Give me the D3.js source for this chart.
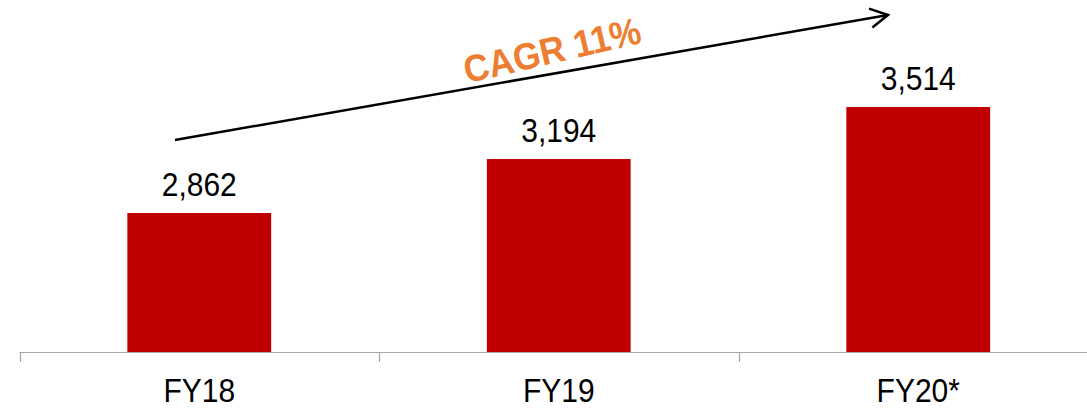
<!DOCTYPE html>
<html>
<head>
<meta charset="utf-8">
<script src="https://d3js.org/d3.v7.min.js"></script>
<style>
  html, body { margin: 0; padding: 0; background: #fff; }
  svg { display: block; }
</style>
</head>
<body>
<svg id="chart" width="1087" height="409"></svg>
<script>
const categories = ["FY18", "FY19", "FY20*"];
const values = [2862, 3194, 3514];
const cagrLabel = "CAGR 11%";

const svg = d3.select("#chart");
const baseY = 352;
const font = "Liberation Sans, Arial, sans-serif";

const x = d3.scaleBand()
  .domain(categories)
  .range([19.5, 1098])
  .paddingInner(0.6)
  .paddingOuter(0.3);

const y = d3.scaleLinear()
  .domain([2007, 4000])
  .range([baseY, 28]);

// bars
svg.selectAll("rect.bar")
  .data(categories)
  .join("rect")
  .attr("class", "bar")
  .attr("x", d => x(d))
  .attr("width", x.bandwidth())
  .attr("y", (d, i) => y(values[i]))
  .attr("height", (d, i) => baseY - y(values[i]))
  .attr("fill", "#C00000");

// value labels (slightly tall glyphs)
svg.selectAll("text.val")
  .data(categories)
  .join("text")
  .attr("class", "val")
  .attr("transform", (d, i) => `translate(${x(d) + x.bandwidth() / 2},${y(values[i]) - 17}) scale(1,1.1)`)
  .attr("text-anchor", "middle")
  .attr("font-family", font)
  .attr("font-size", 30)
  .attr("fill", "#000")
  .text((d, i) => d3.format(",")(values[i]));

// category axis with separators between bands
const bounds = d3.range(categories.length + 1).map(i => 19.5 + i * (1098 - 19.5) / categories.length);
const axisG = svg.append("g");
axisG.append("line")
  .attr("x1", 19.5).attr("x2", 1087)
  .attr("y1", baseY + 0.5).attr("y2", baseY + 0.5)
  .attr("stroke", "#A6A6A6").attr("stroke-width", 1.2);
axisG.selectAll("line.tick")
  .data(bounds)
  .join("line")
  .attr("class", "tick")
  .attr("x1", d => Math.round(d) + 0.5).attr("x2", d => Math.round(d) + 0.5)
  .attr("y1", baseY).attr("y2", baseY + 10)
  .attr("stroke", "#A6A6A6").attr("stroke-width", 1.2);
axisG.selectAll("text")
  .data(categories)
  .join("text")
  .attr("transform", d => `translate(${x(d) + x.bandwidth() / 2},402) scale(1,1.1)`)
  .attr("text-anchor", "middle")
  .attr("font-family", font)
  .attr("font-size", 30)
  .attr("fill", "#000")
  .text(d => d);

// growth arrow
const ax1 = 175, ay1 = 140, ax2 = 888, ay2 = 15;
svg.append("line")
  .attr("x1", ax1).attr("y1", ay1).attr("x2", ax2).attr("y2", ay2)
  .attr("stroke", "#000").attr("stroke-width", 2.5);
const ang = Math.atan2(ay2 - ay1, ax2 - ax1);
const hl = 20, ha = 0.5;
svg.append("path")
  .attr("d", `M${ax2 - hl * Math.cos(ang - ha)},${ay2 - hl * Math.sin(ang - ha)} L${ax2},${ay2} L${ax2 - hl * Math.cos(ang + ha)},${ay2 - hl * Math.sin(ang + ha)}`)
  .attr("fill", "none").attr("stroke", "#000").attr("stroke-width", 2.5);

svg.append("text")
  .attr("transform", "translate(555,63) rotate(-13) scale(1,1.08)")
  .attr("text-anchor", "middle")
  .attr("font-family", font)
  .attr("font-weight", "bold")
  .attr("font-size", 35)
  .attr("fill", "#ED7D31")
  .text(cagrLabel);
</script>
</body>
</html>
